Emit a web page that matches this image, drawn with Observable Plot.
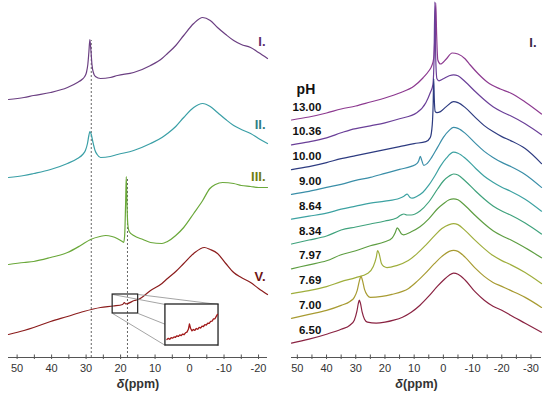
<!DOCTYPE html>
<html><head><meta charset="utf-8">
<script src="https://cdn.jsdelivr.net/npm/d3@7"></script>
<script src="https://cdn.jsdelivr.net/npm/@observablehq/plot@0.6"></script>
<style>
body{margin:0;background:#fff;}
#wrap{display:flex;width:550px;height:394px;overflow:hidden;}
</style></head><body><div id="wrap"></div>
<script>
// ---------- DATA: [chemical shift ppm, intensity (a.u.)] ----------
// Left panel
const specI = [[52.5,0],[48,2],[45.2,4],[40.3,7],[35.4,12],[32.5,17],[31.2,20],[30.4,23],[29.9,27],[29.5,35],[29.2,47],[28.9,60],[28.6,49],[28.3,35],[27.9,27],[27.3,23],[25.8,21],[23,22],[20.9,24],[16.2,27],[11.3,34],[8,41],[6.4,46],[4,54],[1.7,64],[-1.2,76],[-3.8,82],[-6,79],[-8.1,72],[-10.5,65],[-12.8,59],[-15,55],[-17.7,52],[-20,47],[-22.6,41]];
const specII = [[52.5,0],[48,2],[45.2,4],[40.3,8],[35.4,14],[32.5,19],[31,23],[30.2,27],[29.6,34],[29.2,42],[28.9,46],[28.5,43],[28,35],[27.4,27],[26.8,23],[25.8,20],[23,21],[20.9,23],[16.2,27],[11.3,34],[8,40],[6.4,44],[4,51],[1.7,60],[-1.2,70],[-3.8,74],[-6,71],[-8.1,65],[-10.5,58],[-12.8,52],[-15,48],[-17.7,44],[-20,39],[-22.6,34]];
const specIII = [[52.5,0],[48,2],[45.2,3],[40.3,7],[35.4,12],[31.6,19],[28.7,25],[26,28],[24.3,29],[22.5,28],[21,26],[19.5,23],[19.1,22],[18.8,30],[18.55,60],[18.35,88],[18.15,60],[17.9,40],[17.5,33],[16.2,29],[13.5,25],[11.3,22],[8,21],[6.4,23],[4,29],[1.7,37],[-1.2,51],[-3.8,64],[-5.9,76],[-7.5,80],[-9.6,82],[-12.8,81],[-15,79],[-17.7,78],[-20,77],[-22.6,77]];
const specV = [[52.5,0],[48,4],[45.2,7],[40.3,13],[35.4,18],[30.7,23],[25.8,27],[22.1,28.5],[19.4,30],[18.9,32],[18.5,30.5],[16,34],[14.9,35],[11.3,44],[8,51],[6.4,56],[4,63],[1.7,71],[-1.2,81],[-4.3,87],[-6,85],[-8.1,81],[-10.5,71],[-12.8,62],[-15,57],[-17.7,52],[-20,46],[-22.6,40]];
// magnified detail of spectrum V (inset)
const specVzoom = [[22.1,23.8],[21.9,24.3],[21.7,23.9],[21.5,24.6],[21.3,24.4],[21.1,25.0],[20.9,24.8],[20.7,25.5],[20.5,25.2],[20.3,25.9],[20.1,25.6],[19.9,26.3],[19.7,26.0],[19.5,26.9],[19.3,27.2],[19.1,28.5],[18.95,31.0],[18.8,29.0],[18.6,27.8],[18.4,28.4],[18.2,28.0],[18.0,28.9],[17.8,28.5],[17.6,29.4],[17.4,29.1],[17.2,30.0],[17.0,29.8],[16.8,30.7],[16.6,30.5],[16.4,31.4],[16.2,31.3],[16.0,32.2],[15.8,32.3],[15.6,33.3],[15.4,33.4],[15.2,34.6],[15.05,35.4]];
const leftNames = ["I.","II.","III.","V."];
const refLines = [28.5, 18];

// Right panel (pH series, bottom to top)
const pHLabels = ["6.50","7.00","7.69","7.97","8.34","8.64","9.00","10.00","10.36","13.00"];
const r650 = [[52,0],[46,4],[40,9],[35,14],[32,18],[30.5,23],[29.6,32],[29.1,40],[28.8,43],[28.4,40],[27.8,31],[27,24],[26,21],[23,20],[20,21],[17,23],[14,26],[11,31],[8,38],[5,47],[2,57],[0,63],[-2,68],[-3.5,70],[-5,69],[-7.5,63],[-11,51],[-14,43],[-17,37],[-20,33],[-23,28],[-28,20],[-33.6,11]];
const r700 = [[52,0],[46,4],[40,8],[35,13],[32,17],[30.5,21],[29.5,28],[28.8,37],[28.2,42],[27.7,38],[27,29],[26,23],[25,21],[21,22],[17.6,24],[14,27],[11.9,30],[9,37],[6.2,45],[3,55],[0.5,62],[-2,67],[-3.5,68],[-5,67],[-7.5,61],[-11,50],[-14,42],[-17,36],[-20,32],[-23,28],[-28,21],[-33.6,11]];
const r769 = [[52,0],[46,3],[40,7],[35,12],[30,16],[26,20],[24,27],[23,36],[22.5,43],[22,40],[21.2,30],[20.3,27],[19.3,26],[16,28],[12,33],[9,40],[6.2,48],[3,58],[0.5,65],[-2,69],[-3.5,70],[-5,69],[-7.5,63],[-11,53],[-14,45],[-17,38],[-20,33],[-23,29],[-28,21],[-33.6,10]];
const r797 = [[52,0],[46,4],[40,8],[35,14],[30,18],[25,23],[20,27],[17.5,31],[16.5,36],[15.8,41],[15.2,39],[14.4,35],[13.6,34],[11,37],[8,42],[5,50],[2,60],[0,65],[-2,69],[-3.5,70],[-5,69],[-7.5,63],[-11,53],[-14,45],[-17,38],[-20,33],[-23,29],[-28,21],[-33.6,11]];
const r834 = [[52,0],[46,4],[40,8],[35,14],[30,17],[25,20],[20,23],[16,26],[14.5,29],[13.5,30],[12.5,29],[11,29],[8,33],[5,42],[2,55],[0,63],[-2,68],[-3.5,70],[-5,69],[-7.5,63],[-11,53],[-14,45],[-17,38],[-20,33],[-23,29],[-28,21],[-33.6,10]];
const r864 = [[52,0],[46,3],[40,6],[35,10],[30,13],[25,16],[20,18],[15,21],[13.5,23],[12.4,25],[11.5,22],[10.7,21],[9,23],[7,27],[5,34],[3,43],[1,53],[-1,61],[-3.5,67],[-5,66],[-7.5,61],[-11,51],[-14,43],[-17,37],[-20,32],[-23,28],[-28,20],[-33.6,8]];
const r900 = [[52,0],[46,3],[40,7],[35,10],[30,14],[25,17],[20,21],[15,25],[11,28],[9,31],[8.4,34],[7.9,38],[7.4,34],[6.7,29],[5.5,31],[4,37],[2,47],[0,57],[-2,64],[-3.5,67],[-5,66],[-7.5,61],[-11,51],[-14,43],[-17,37],[-20,32],[-23,28],[-28,20],[-33.6,7]];
const r1000 = [[52,0],[46,3],[40,7],[35,11],[30,14],[25,17],[20,20],[15,23],[10,26],[6,28],[4.5,32],[3.8,45],[3.5,65],[3.3,91],[3.1,70],[2.8,58],[2.2,57],[1,58],[-1,63],[-3.5,68],[-5,67],[-7.5,62],[-11,52],[-14,44],[-17,38],[-20,33],[-23,29],[-28,21],[-33.6,6]];
const r1036 = [[52,0],[46,3],[40,7],[35,12],[31.8,15],[25,19],[20,22],[15,26],[9.1,32],[6,42],[4.5,52],[3.6,60],[3.2,85],[2.9,143],[2.6,85],[2.2,66],[1.5,64],[0,66],[-2,69],[-3.5,70],[-5,69],[-7.5,63],[-11,53],[-14,45],[-17,38],[-20,33],[-23,29],[-28,21],[-33.6,10]];
const r1300 = [[52,0],[46,3],[40,7],[35,11],[30,14],[25,18],[20,22],[15,27],[10,34],[7,42],[5,49],[4,54],[3.3,62],[2.9,85],[2.6,117],[2.3,85],[1.9,60],[1,56],[-1,61],[-3,67],[-5,66],[-7.5,61],[-9.2,55],[-12,46],[-15,38],[-19.5,31],[-23,27],[-28,18],[-33.6,6]];

const leftTicks = [50,40,30,20,10,0,-10,-20];
const rightTicks = [50,40,30,20,10,0,-10,-20,-30];

// ---------- LAYOUT / STYLE ----------
const H = 394, AX = 357;              // axis baseline (px from top)
const FONT = "'Liberation Sans', Arial, Helvetica, sans-serif";
const leftSeries = [
  {name:"I.",  data:specI,  offset:258, color:"#6b3f82", label:"#5a2d6e", ly:58},
  {name:"II.", data:specII, offset:180, color:"#3a9fa6", label:"#2f7f86", ly:53},
  {name:"III.",data:specIII,offset:93,  color:"#6aa83a", label:"#6f7d12", ly:88},
  {name:"V.",  data:specV,  offset:23,  color:"#8b1c1c", label:"#6e1414", ly:58}
];
const rightColors = ["#8a2342","#a89b32","#9fae3c","#5e9e42","#3fa27c","#3da2a2","#3a8ea8","#2d3b80","#6a3f98","#8d3a90"];
const rightSeries = pHLabels.map((p,i)=>({name:p, data:[r650,r700,r769,r797,r834,r864,r900,r1000,r1036,r1300][i], offset:14.3+24.8*i, color:rightColors[i]}));

function toRows(s){ return s.data.map(([x,v])=>({x, y:s.offset+v})); }

function axisMarks(ticks, xmin, xmax){
  const minor = d3.range(Math.ceil(xmax/5)*5, xmin+0.001, 5);
  return [
    Plot.ruleY([0], {stroke:"#555", strokeWidth:1}),
    Plot.ruleX(minor, {y1:-2, y2:2.5, stroke:"#555", strokeWidth:1}),
    Plot.text(ticks, {x:d=>d, y:()=>0, dy:11, text:d=>String(d), fontSize:11, fill:"#333", fontFamily:FONT}),
    Plot.text(["δ(ppm)"], {frameAnchor:"bottom", lineAnchor:"middle", dy:26, fontSize:12.5, fontWeight:"bold", fill:"#333", fontFamily:FONT})
  ];
}

function italicDelta(svg){
  svg.querySelectorAll("text").forEach(t=>{
    if (t.textContent === "δ(ppm)") {
      const ns = "http://www.w3.org/2000/svg";
      t.textContent = "";
      const a = document.createElementNS(ns,"tspan"); a.setAttribute("font-style","italic"); a.textContent = "δ";
      const b = document.createElementNS(ns,"tspan"); b.textContent = "(ppm)";
      t.append(a,b);
    }
  });
  return svg;
}

// inset geometry (plot units)
const zoomWin = {x1:22.3, x2:14.9, y1:44, y2:63};
const insetWin = {x1:7.0, x2:-8.4, y1:12, y2:53};
const vOff = 23;
const toInset = ([x,v]) => ({
  x: insetWin.x1 + (x - zoomWin.x1) * (insetWin.x2 - insetWin.x1) / (zoomWin.x2 - zoomWin.x1),
  y: insetWin.y1 + (v + vOff - zoomWin.y1) * (insetWin.y2 - insetWin.y1) / (zoomWin.y2 - zoomWin.y1)
});
const connectors = [
  {x1:zoomWin.x1, y1:zoomWin.y2, x2:insetWin.x1, y2:insetWin.y2},
  {x1:zoomWin.x2, y1:zoomWin.y2, x2:insetWin.x2, y2:insetWin.y2},
  {x1:zoomWin.x1, y1:zoomWin.y1, x2:insetWin.x1, y2:insetWin.y1},
  {x1:zoomWin.x2, y1:zoomWin.y1, x2:insetWin.x2, y2:insetWin.y1}
];

const left = Plot.plot({
  width:275, height:H, marginTop:0, marginBottom:H-AX, marginLeft:8, marginRight:8,
  x:{domain:[52.5,-22.6], axis:null}, y:{domain:[0,AX], axis:null},
  style:{fontFamily:FONT, background:"white", overflow:"visible"},
  marks:[
    Plot.ruleX(refLines, {y1:0, y2:(d,i)=> i===0 ? 317 : 178, stroke:"#555", strokeWidth:0.9, strokeDasharray:"2,2"}),
    ...leftSeries.map(s=>Plot.line(toRows(s), {x:"x", y:"y", stroke:s.color, strokeWidth:1.2, curve:"monotone-x"})),
    Plot.link(connectors, {x1:"x1", y1:"y1", x2:"x2", y2:"y2", stroke:"#9a9a9a", strokeWidth:0.9}),
    Plot.rect([insetWin], {x1:"x1", x2:"x2", y1:"y1", y2:"y2", fill:"white", stroke:"#222", strokeWidth:1.3}),
    Plot.line(specVzoom.map(toInset), {x:"x", y:"y", stroke:"#a01818", strokeWidth:1.3}),
    Plot.rect([zoomWin], {x1:"x1", x2:"x2", y1:"y1", y2:"y2", fill:"none", stroke:"#222", strokeWidth:1.2}),
    Plot.text(leftSeries, {x:()=>-22.6, y:d=>d.offset+d.ly, text:"name", fill:d=>d.label, textAnchor:"end", dx:-2, fontSize:13, fontWeight:"bold", fontFamily:FONT}),
    ...axisMarks(leftTicks, 52.5, -22.6)
  ]
});

const right = Plot.plot({
  width:275, height:H, marginTop:0, marginBottom:H-AX, marginLeft:16, marginRight:9,
  x:{domain:[52,-33.6], axis:null}, y:{domain:[0,AX], axis:null},
  color:{type:"identity"},
  style:{fontFamily:FONT, background:"white", overflow:"visible"},
  marks:[
    ...rightSeries.slice().reverse().map(s=>Plot.line(toRows(s), {x:"x", y:"y", stroke:s.color, strokeWidth:1.2, curve:"monotone-x"})),
    Plot.text(rightSeries, {x:()=>41.8, y:d=>d.offset+13, text:"name", textAnchor:"end", fontSize:11.5, fontWeight:"bold", fill:"#111", fontFamily:FONT}),
    Plot.text(["pH"], {x:()=>41.8, y:()=>268, text:d=>d, textAnchor:"end", dx:-6, fontSize:14, fontWeight:"bold", fill:"#111", fontFamily:FONT}),
    Plot.text(["I."], {x:()=>-33.6, y:()=>315, text:d=>d, textAnchor:"end", dx:-5, fontSize:13, fontWeight:"bold", fill:"#3a2a48", fontFamily:FONT}),
    ...axisMarks(rightTicks, 52, -33.6)
  ]
});

const wrap = document.getElementById("wrap");
wrap.append(italicDelta(left), italicDelta(right));
</script></body></html>
